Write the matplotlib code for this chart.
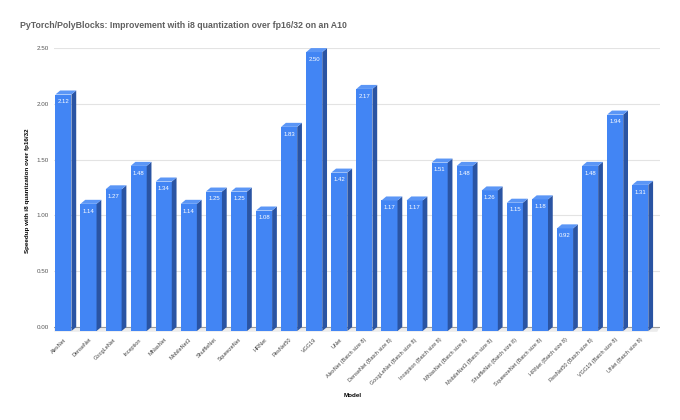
import numpy as np
import matplotlib.pyplot as plt
from matplotlib.patches import Polygon

plt.rcParams['font.family'] = ['Liberation Sans', 'DejaVu Sans']

base_models = ['AlexNet', 'DenseNet', 'GoogLeNet', 'Inception', 'MNasNet', 'MobileNet3',
               'ShuffleNet', 'SqueezeNet', 'HRNet', 'ResNet50', 'VGG19', 'UNet']
models = base_models + [m + ' (Batch size 8)' for m in base_models]
speedup = [2.12, 1.14, 1.27, 1.48, 1.34, 1.14, 1.25, 1.25, 1.08, 1.83, 2.50, 1.42,
           2.17, 1.17, 1.17, 1.51, 1.48, 1.26, 1.15, 1.18, 0.92, 1.48, 1.94, 1.31]
yticks = [0.0, 0.5, 1.0, 1.5, 2.0, 2.5]

front_c = '#4285f4'
side_c = '#2a54a3'
top_c = '#5b96f6'

fig = plt.figure(figsize=(6.8, 4.2), dpi=100)
ax = fig.add_axes([0.080, 0.2055, 0.890, 0.680])

w = 0.64
dx = 0.19
dy = 0.036
xl, xr = -0.36, 23.77

# floor band
ax.add_patch(Polygon([(xl, 0), (xr, 0), (xr - dx * 0.5, -dy * 1.2), (xl, -dy * 1.2)],
                     closed=True, facecolor='#ececec', edgecolor='none', zorder=1))

for i, v in enumerate(speedup):
    x0 = i - w / 2
    front = Polygon([(x0, -dy), (x0 + w, -dy), (x0 + w, v - dy), (x0, v - dy)],
                    closed=True, facecolor=front_c, edgecolor='none', zorder=3)
    side = Polygon([(x0 + w, -dy), (x0 + w + dx, 0), (x0 + w + dx, v), (x0 + w, v - dy)],
                   closed=True, facecolor=side_c, edgecolor='none', zorder=3)
    top = Polygon([(x0, v - dy), (x0 + w, v - dy), (x0 + w + dx, v), (x0 + dx, v)],
                  closed=True, facecolor=top_c, edgecolor='none', zorder=3)
    for p in (front, side, top):
        ax.add_patch(p)
    ax.text(i, v - dy - 0.065, f'{v:.2f}', color='white', fontsize=4.3,
            ha='center', va='center', zorder=4)

ax.set_xlim(xl, xr)
ax.set_ylim(-0.06, 2.5)
ax.set_yticks(yticks)
ax.set_yticklabels([f'{t:.2f}' for t in yticks], fontsize=4.5, color='#555555')
ax.set_xticks(range(len(models)))
ax.set_xticklabels(models, rotation=45, ha='right', rotation_mode='anchor',
                   fontsize=4, color='#444444')
ax.tick_params(length=0, pad=4)
ax.tick_params(axis='x', pad=2.5)

for t in yticks[1:]:
    ax.axhline(t, color='#e3e3e3', lw=0.8, zorder=0)
ax.axhline(0, color='#999999', lw=0.8, zorder=2)

for s in ax.spines.values():
    s.set_visible(False)

ax.set_ylabel('Speedup with i8 quantization over fp16/32', fontsize=4.5,
              fontweight='bold', labelpad=5)
fig.text(0.519, 0.055, 'Model', fontsize=4.5, fontweight='bold', ha='center')
fig.text(0.03, 0.933, 'PyTorch/PolyBlocks: Improvement with i8 quantization over fp16/32 on an A10',
         fontsize=6.3, fontweight='bold', color='#5f5f5f', ha='left')

fig.savefig('out.png', dpi=100)
